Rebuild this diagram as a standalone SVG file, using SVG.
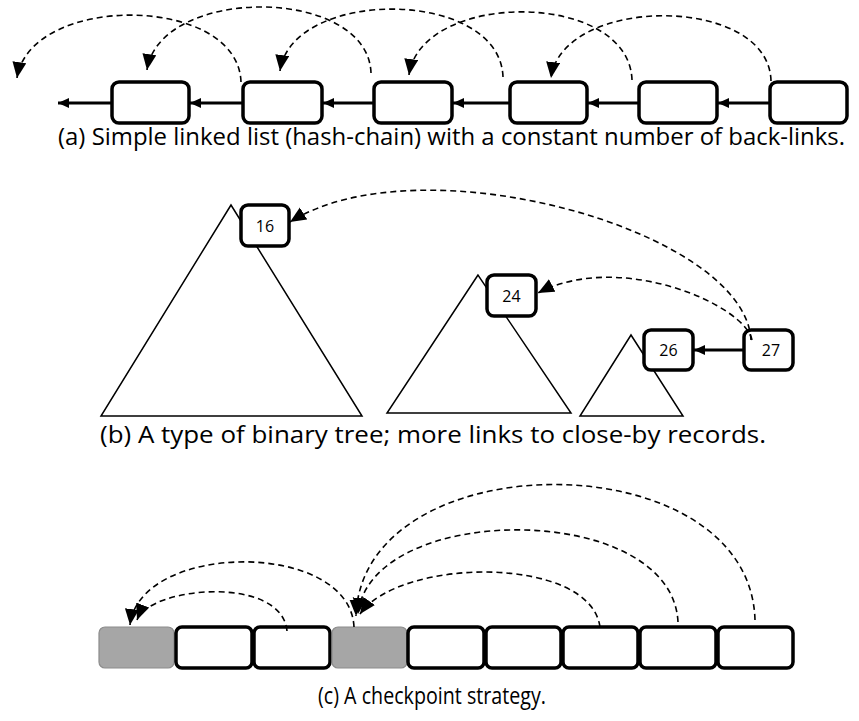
<svg xmlns="http://www.w3.org/2000/svg" width="859" height="721" viewBox="0 0 859 721">
<style>
.box{fill:#fff;stroke:#000;stroke-width:3.5}
.gray{fill:#a6a6a6;stroke:#8c8c8c;stroke-width:1.2}
.tri{fill:#fff;stroke:#000;stroke-width:1.5}
.solid{fill:none;stroke:#000;stroke-width:3;marker-end:url(#sa)}
.dash{fill:none;stroke:#000;stroke-width:1.6;stroke-dasharray:6 4;marker-end:url(#da)}
.cap{font-family:"Open Sans","Noto Sans",sans-serif;font-size:23px;fill:#000}
.num{font-family:"Open Sans","Noto Sans",sans-serif;font-size:16px;fill:#000;text-anchor:middle}
</style>
<defs>
<marker id="da" markerUnits="userSpaceOnUse" markerWidth="18" markerHeight="16" refX="16" refY="7" orient="auto"><path d="M0,0 L16,7 L0,14 z" fill="#000"/></marker>
<marker id="sa" markerUnits="userSpaceOnUse" markerWidth="12" markerHeight="11" refX="11" refY="5" orient="auto"><path d="M0,0 L11,5 L0,10 z" fill="#000"/></marker>
</defs>

<!-- (a) -->
<g id="a-nodes">
<g id="a1"><rect class="box" x="112" y="82" width="77" height="41" rx="7"/></g>
<g id="a2"><rect class="box" x="243" y="82" width="79" height="41" rx="7"/></g>
<g id="a3"><rect class="box" x="374" y="82" width="78" height="41" rx="7"/></g>
<g id="a4"><rect class="box" x="510" y="82" width="77" height="41" rx="7"/></g>
<g id="a5"><rect class="box" x="639" y="82" width="78" height="41" rx="7"/></g>
<g id="a6"><rect class="box" x="770" y="82" width="77" height="41" rx="7"/></g>
</g>
<g id="a-connectors">
<path class="solid" d="M112,103 L58,103"/>
<path class="solid" d="M243,103 L190,103"/>
<path class="solid" d="M374,103 L323,103"/>
<path class="solid" d="M510,103 L453,103"/>
<path class="solid" d="M639,103 L588,103"/>
<path class="solid" d="M770,103 L718,103"/>
<path class="dash" d="M241,82 C238,-6 30,-7 17,78"/>
<path class="dash" d="M371,73 C368,-14 160,-15 147,70"/>
<path class="dash" d="M503,77 C500,-12 292,-13 280,71"/>
<path class="dash" d="M632,80 C629,-10 421,-10 409,75"/>
<path class="dash" d="M771,81 C769,-6 562,-5 551,78"/>
</g>
<text class="cap" x="58" y="145" textLength="787" lengthAdjust="spacingAndGlyphs">(a) Simple linked list (hash-chain) with a constant number of back-links.</text>

<!-- (b) -->
<g id="t1"><polygon class="tri" points="231,205 101,416 362,416"/></g>
<g id="t2"><polygon class="tri" points="478,275 387,413 571,413"/></g>
<g id="t3"><polygon class="tri" points="631,335 580,416 683,416"/></g>
<g id="n16"><rect class="box" x="241" y="205" width="48" height="41" rx="7"/><text class="num" x="265" y="231.5">16</text></g>
<g id="n24"><rect class="box" x="487" y="275" width="49" height="41" rx="7"/><text class="num" x="511.5" y="301.5">24</text></g>
<g id="n26"><rect class="box" x="644" y="330" width="49" height="40" rx="7"/><text class="num" x="668.5" y="356">26</text></g>
<g id="n27"><rect class="box" x="744" y="330" width="49" height="40" rx="7"/><text class="num" x="771" y="356">27</text></g>
<g id="b-connectors">
<path class="solid" d="M744,350 L694,350"/>
<path class="dash" d="M751,340 C745,230 420,140 290,222"/>
<path class="dash" d="M752,340 C745,305 620,250 538,293"/>
</g>
<text class="cap" x="100" y="443" textLength="666" lengthAdjust="spacingAndGlyphs">(b) A type of binary tree; more links to close-by records.</text>

<!-- (c) -->
<g id="c-nodes">
<g id="c1"><rect class="gray" x="99" y="627" width="75" height="41" rx="6"/></g>
<g id="c2"><rect class="box" x="176" y="627" width="76" height="41" rx="6"/></g>
<g id="c3"><rect class="box" x="254" y="627" width="76" height="41" rx="6"/></g>
<g id="c4"><rect class="gray" x="332" y="627" width="75" height="41" rx="6"/></g>
<g id="c5"><rect class="box" x="408" y="627" width="76" height="41" rx="6"/></g>
<g id="c6"><rect class="box" x="486" y="627" width="75" height="41" rx="6"/></g>
<g id="c7"><rect class="box" x="563" y="627" width="75" height="41" rx="6"/></g>
<g id="c8"><rect class="box" x="640" y="627" width="76" height="41" rx="6"/></g>
<g id="c9"><rect class="box" x="718" y="627" width="75" height="41" rx="6"/></g>
</g>
<g id="c-connectors">
<path class="dash" d="M287,631 C282,575 150,586 137,620"/>
<path class="dash" d="M354,627 C350,540 140,541 130,625"/>
<path class="dash" d="M600,627 C590,555 400,557 360,614"/>
<path class="dash" d="M678,622 C672,500 370,501 358,614"/>
<path class="dash" d="M755,620 C750,440 362,440 356,616"/>
</g>
<text class="cap" x="318" y="704" textLength="228" lengthAdjust="spacingAndGlyphs">(c) A checkpoint strategy.</text>
</svg>
